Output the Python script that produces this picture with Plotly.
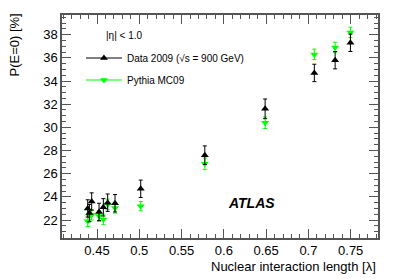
import plotly.graph_objects as go

# Data
x_data = [0.439, 0.441, 0.4437, 0.4524, 0.4575, 0.4626, 0.4713, 0.5017, 0.5775, 0.6488, 0.707, 0.7316, 0.7497]
y_data = [23.0, 22.6, 23.6, 22.7, 23.1, 23.5, 23.45, 24.7, 27.6, 31.6, 34.7, 35.8, 37.3]
e_data = [0.75, 0.75, 0.75, 0.75, 0.75, 0.75, 0.75, 0.75, 0.8, 0.85, 0.75, 0.75, 0.75]

x_mc = [0.439, 0.441, 0.4437, 0.4524, 0.4575, 0.4626, 0.4713, 0.5017, 0.5775, 0.6488, 0.707, 0.7316, 0.7497]
y_mc = [21.9, 22.35, 22.45, 22.35, 22.05, 23.35, 23.05, 23.2, 26.85, 30.4, 36.3, 36.9, 38.2]
e_mc = [0.45, 0.45, 0.45, 0.45, 0.45, 0.45, 0.45, 0.4, 0.5, 0.5, 0.45, 0.45, 0.45]

FONT = "Liberation Sans, Arial, sans-serif"
GREEN = "#00ff00"

fig = go.Figure()
fig.add_trace(go.Scatter(
    x=x_mc, y=y_mc, mode="markers",
    marker=dict(symbol="triangle-down", size=7, color=GREEN),
    error_y=dict(type="data", array=e_mc, color=GREEN, thickness=1, width=2),
    showlegend=False))
fig.add_trace(go.Scatter(
    x=x_data, y=y_data, mode="markers",
    marker=dict(symbol="triangle-up", size=7, color="black"),
    error_y=dict(type="data", array=e_data, color="black", thickness=1, width=2),
    showlegend=False))
# legend entries
fig.add_trace(go.Scatter(x=[None], y=[None], mode="lines+markers",
                         name="Data 2009 (√s = 900 GeV)", legend="legend",
                         line=dict(color="black", width=1),
                         marker=dict(symbol="triangle-up", size=7, color="black")))
fig.add_trace(go.Scatter(x=[None], y=[None], mode="lines+markers",
                         name="Pythia MC09", legend="legend2",
                         line=dict(color=GREEN, width=1),
                         marker=dict(symbol="triangle-down", size=7, color=GREEN)))

axis_common = dict(
    showgrid=False, zeroline=False, showline=True, linecolor="#555", linewidth=1.5,
    mirror="allticks", ticks="inside", ticklen=9, tickcolor="#555", tickwidth=1,
    tickfont=dict(family=FONT, size=13, color="black"),
)
fig.update_xaxes(range=[0.4086, 0.7823], dtick=0.05, tick0=0.45,
                 minor=dict(ticks="inside", ticklen=4.5, dtick=0.01, tickcolor="#555"),
                 **axis_common)
fig.update_yaxes(range=[20.45, 39.7], dtick=2, tick0=20,
                 minor=dict(ticks="inside", ticklen=4.5, dtick=0.5, tickcolor="#555"),
                 **axis_common)

leg_common = dict(x=0.06, xanchor="left", yanchor="middle",
                  bgcolor="rgba(0,0,0,0)", font=dict(size=10, family=FONT),
                  itemwidth=36)

fig.update_layout(
    width=411, height=279,
    margin=dict(l=62, r=33, t=15, b=41, autoexpand=False),
    plot_bgcolor="white", paper_bgcolor="white",
    font=dict(family=FONT, color="black"),
    showlegend=True,
    legend=dict(y=1 - (58 - 15) / 223, **leg_common),
    legend2=dict(y=1 - (80 - 15) / 223, **leg_common),
    annotations=[
        dict(text="|η| < 1.0", xref="paper", yref="paper", x=(104 - 62) / 316, y=1 - (35 - 15) / 223,
             xanchor="left", yanchor="middle", showarrow=False, font=dict(size=10, family=FONT)),
        dict(text="<b><i>ATLAS</i></b>", xref="paper", yref="paper", x=(226 - 62) / 316,
             y=1 - (203 - 15) / 223, xanchor="left", yanchor="middle", showarrow=False,
             font=dict(size=14, family=FONT)),
        dict(text="Nuclear interaction length [λ]", xref="paper", yref="paper", x=1.0,
             y=-(266 - 238) / 223, xanchor="right", yanchor="middle", showarrow=False,
             font=dict(size=13, family=FONT)),
        dict(text="P(E=0) [%]", xref="paper", yref="paper", x=-(62 - 14) / 316,
             y=1 + 3 / 223, xanchor="center", yanchor="top", textangle=-90, showarrow=False,
             font=dict(size=13, family=FONT)),
    ],
)

fig.write_html("out.html", config={"displayModeBar": False},
               post_script="document.body.style.margin='0';document.body.style.overflow='hidden';")
